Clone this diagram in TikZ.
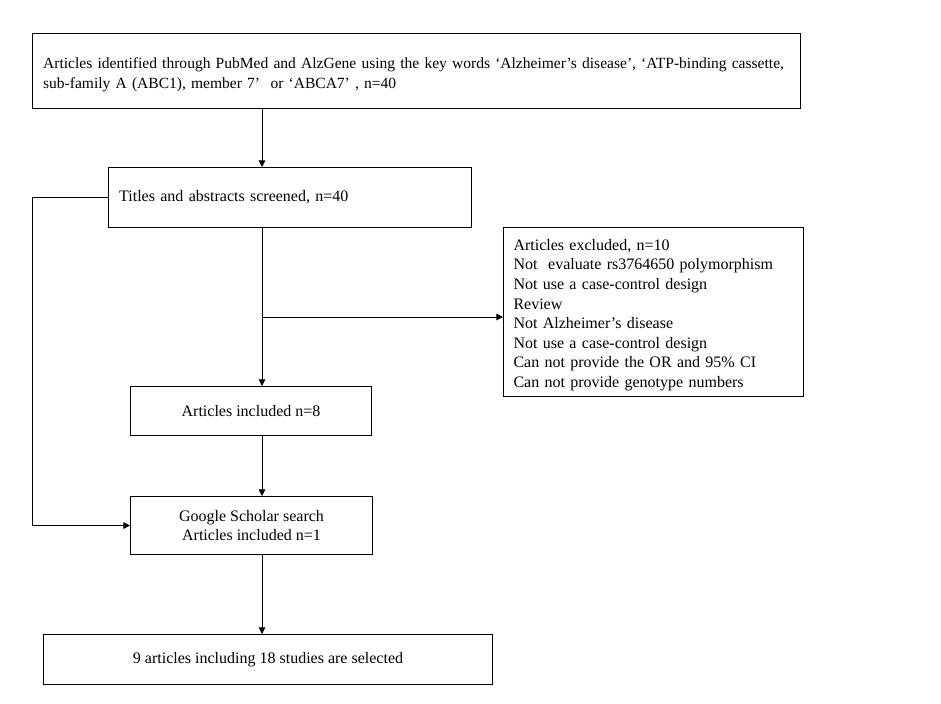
\documentclass[tikz,border=0pt]{standalone}
\usepackage{fontspec}
\setmainfont{Liberation Serif}
\usetikzlibrary{arrows.meta}
\begin{document}
\begin{tikzpicture}[x=0.75pt,y=-0.75pt,
  box/.style={draw,line width=0.75pt,inner sep=0pt,font=\fontsize{12}{14.7}\selectfont},
  lbox/.style={box,align=left,inner xsep=8pt},
  cbox/.style={box,align=center},
  arr/.style={line width=0.75pt,-{Triangle[length=5pt,width=5pt]}},
  ln/.style={line width=0.75pt}]
\useasboundingbox (0,0) rectangle (941,703);
\node[lbox,anchor=north west,text width=560pt,minimum height=56.25pt,font=\fontsize{11.65}{15.5}\selectfont] (top) at (32,33)
  {\rule{0pt}{14pt}\mbox{Articles identified through PubMed and AlzGene using the key words ‘Alzheimer’s disease’, ‘ATP-binding cassette,}\\ sub-family A (ABC1), member 7’\ \ or ‘ABCA7’ , n=40};
\node[lbox,anchor=north west,text width=256.25pt,minimum height=45pt] (titles) at (108,167)
  {Titles and abstracts screened, n=40};
\node[lbox,anchor=north west,text width=209.75pt,minimum height=126.75pt,inner xsep=7.5pt] (excl) at (503,227)
  {\rule{0pt}{12.8pt}Articles excluded, n=10\\ Not\ \ evaluate rs3764650 polymorphism\\ Not use a case-control design\\ Review\\ Not Alzheimer’s disease\\ Not use a case-control design\\ Can not provide the OR and 95\% CI\\ Can not provide genotype numbers};
\node[cbox,anchor=north west,minimum width=180.75pt,minimum height=36.75pt] (inc) at (130,386)
  {Articles included n=8};
\node[cbox,anchor=north west,minimum width=181.5pt,minimum height=43.5pt] (google) at (130,496)
  {Google Scholar search\\ Articles included n=1};
\node[cbox,anchor=north west,minimum width=336.75pt,minimum height=37.5pt] (final) at (43,634)
  {9 articles including 18 studies are selected};
\coordinate (cx) at (262,0);
\coordinate (br) at (262,317);
\draw[arr] (top.south -| cx) -- (titles.north -| cx);
\draw[arr] (titles.south -| cx) -- (inc.north -| cx);
\draw[arr] (br) -- (br -| excl.west);
\draw[arr] (inc.south -| cx) -- (google.north -| cx);
\draw[arr] (google.south -| cx) -- (final.north -| cx);
\draw[arr] (titles.west) -- ++(-76,0) |- (google.west);
\end{tikzpicture}
\end{document}
